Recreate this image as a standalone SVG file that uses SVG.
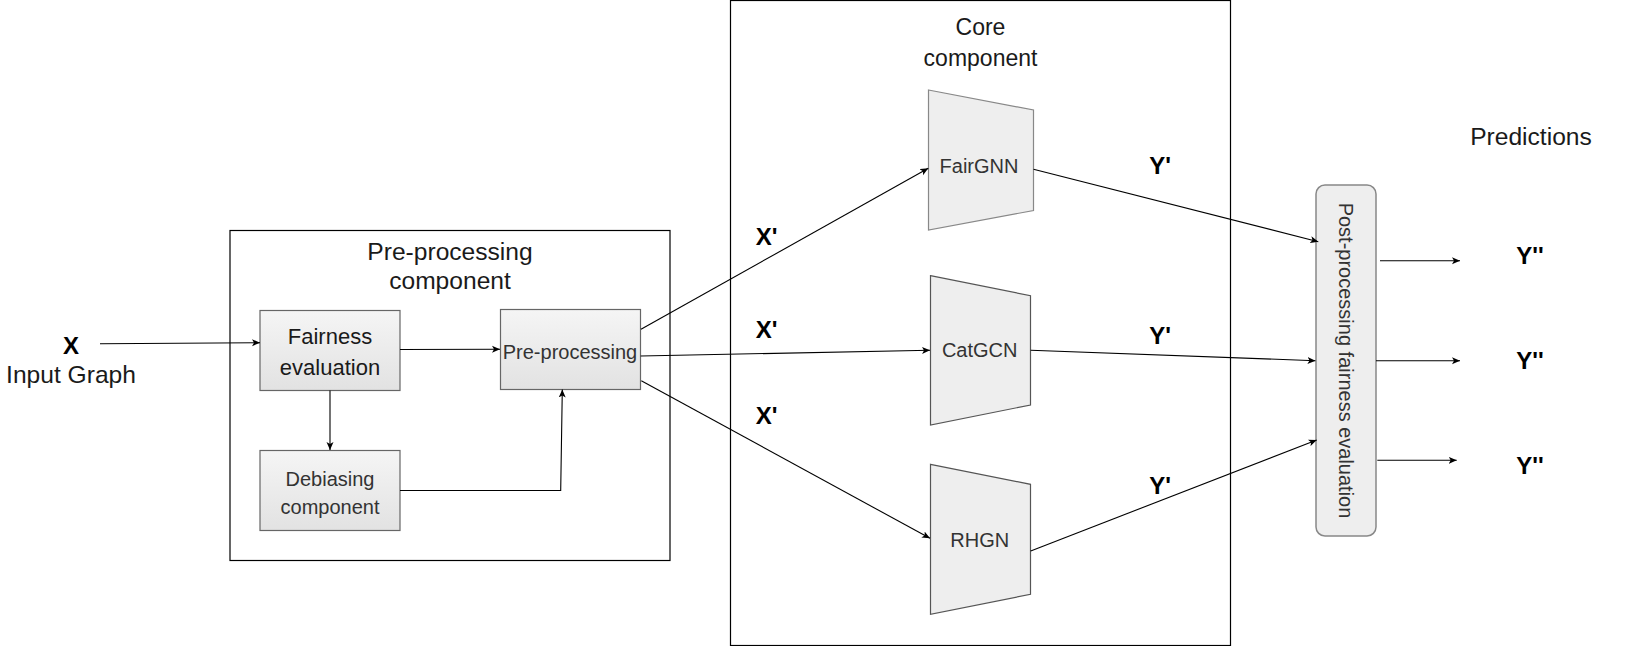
<svg xmlns="http://www.w3.org/2000/svg" width="1650" height="646" viewBox="0 0 1650 646">
<style>
text{font-family:"Liberation Sans",Arial,Helvetica,sans-serif;fill:#1a1a1a}
.t20{font-size:20px;fill:#333}
.t22{font-size:22px;fill:#1a1a1a}
.t24{font-size:24.6px}
.t23{font-size:23px}
.b{font-size:24px;font-weight:bold;fill:#000}
.cont{fill:none;stroke:#000;stroke-width:1.2}
.box{fill:url(#g);stroke:#666;stroke-width:1.2}
.trap{fill:#eeeeee;stroke:#555;stroke-width:1.2}
.edge{fill:none;stroke:#000;stroke-width:1.1;marker-end:url(#a)}
</style>
<defs>
<linearGradient id="g" x1="0" y1="0" x2="0" y2="1">
<stop offset="0" stop-color="#f5f5f5"/>
<stop offset="1" stop-color="#e2e2e2"/>
</linearGradient>
<marker id="a" viewBox="0 0 8 8" markerWidth="8" markerHeight="8" refX="8" refY="4" orient="auto" markerUnits="userSpaceOnUse">
<path d="M0,0.5 L8,4 L0,7.5 L2,4 z" fill="#000"/>
</marker>
</defs>
<rect width="1650" height="646" fill="#fff"/>

<g id="preproc-container">
<rect class="cont" x="230" y="230.5" width="440" height="330"/>
<text class="t24" x="450" y="259.5" text-anchor="middle">Pre-processing</text>
<text class="t24" x="450" y="288.5" text-anchor="middle">component</text>
</g>

<g id="core-container">
<rect class="cont" x="730.5" y="0.5" width="500" height="645"/>
<text class="t23" x="980.5" y="35" text-anchor="middle">Core</text>
<text class="t23" x="980.5" y="65.5" text-anchor="middle">component</text>
</g>

<g id="input">
<text class="b" x="71" y="354" text-anchor="middle">X</text>
<text class="t24" x="71" y="383" text-anchor="middle">Input Graph</text>
</g>

<g id="fairness">
<rect class="box" x="260" y="310.5" width="140" height="80"/>
<text class="t22" x="330" y="344.3" text-anchor="middle">Fairness</text>
<text class="t22" x="330" y="375" text-anchor="middle">evaluation</text>
</g>

<g id="debiasing">
<rect class="box" x="260" y="450.5" width="140" height="80"/>
<text class="t20" x="330" y="485.7" text-anchor="middle">Debiasing</text>
<text class="t20" x="330" y="514.3" text-anchor="middle">component</text>
</g>

<g id="preprocessing">
<rect class="box" x="500.5" y="309.5" width="140" height="80"/>
<text class="t20" x="570" y="359.3" text-anchor="middle">Pre-processing</text>
</g>

<g id="fairgnn">
<polygon class="trap" style="stroke:#888" points="928.5,90 1033.5,110 1033.5,210.5 928.5,230"/>
<text class="t20" x="979" y="172.7" text-anchor="middle">FairGNN</text>
</g>

<g id="catgcn">
<polygon class="trap" points="930.5,275.7 1030.5,295.7 1030.5,405 930.5,425"/>
<text class="t20" x="979.7" y="357.3" text-anchor="middle">CatGCN</text>
</g>

<g id="rhgn">
<polygon class="trap" points="930.5,464.3 1030.5,484.3 1030.5,594.3 930.5,614.3"/>
<text class="t20" x="979.7" y="547.3" text-anchor="middle">RHGN</text>
</g>

<g id="postprocessing">
<rect x="1316" y="185" width="60" height="351" rx="9" ry="9" fill="#eeeeee" stroke="#888" stroke-width="1.5"/>
<text class="t20" transform="translate(1346,360.5) rotate(90)" x="0" y="7" text-anchor="middle">Post-processing fairness evaluation</text>
</g>

<g id="predictions">
<text class="t24" x="1531" y="145" text-anchor="middle">Predictions</text>
<text class="b" x="1530" y="264" text-anchor="middle">Y''</text>
<text class="b" x="1530" y="369.3" text-anchor="middle">Y''</text>
<text class="b" x="1530" y="474" text-anchor="middle">Y''</text>
</g>

<g id="edge-labels">
<text class="b" x="766.5" y="245" text-anchor="middle">X'</text>
<text class="b" x="766.5" y="338" text-anchor="middle">X'</text>
<text class="b" x="766.5" y="424" text-anchor="middle">X'</text>
<text class="b" x="1160" y="174" text-anchor="middle">Y'</text>
<text class="b" x="1160" y="344" text-anchor="middle">Y'</text>
<text class="b" x="1160" y="494" text-anchor="middle">Y'</text>
</g>

<g id="connectors">
<line class="edge" x1="100" y1="343.7" x2="260" y2="342.7"/>
<line class="edge" x1="400" y1="349.5" x2="500" y2="349.3"/>
<line class="edge" x1="330" y1="390.5" x2="330" y2="450"/>
<polyline class="edge" points="400,490.5 560.7,490.5 562.3,389.5"/>
<line class="edge" x1="641" y1="329.3" x2="928.3" y2="168.3"/>
<line class="edge" x1="640.7" y1="356" x2="930" y2="350.3"/>
<line class="edge" x1="641.3" y1="380.7" x2="930" y2="538.3"/>
<line class="edge" x1="1033.5" y1="169.3" x2="1318.3" y2="241.7"/>
<line class="edge" x1="1030.7" y1="350.3" x2="1315.5" y2="360.7"/>
<line class="edge" x1="1030.7" y1="551" x2="1316.7" y2="440"/>
<line class="edge" x1="1380" y1="260.7" x2="1460" y2="260.7"/>
<line class="edge" x1="1376" y1="360.7" x2="1460" y2="360.7"/>
<line class="edge" x1="1377.3" y1="460.3" x2="1456.7" y2="460.3"/>
</g>
</svg>
